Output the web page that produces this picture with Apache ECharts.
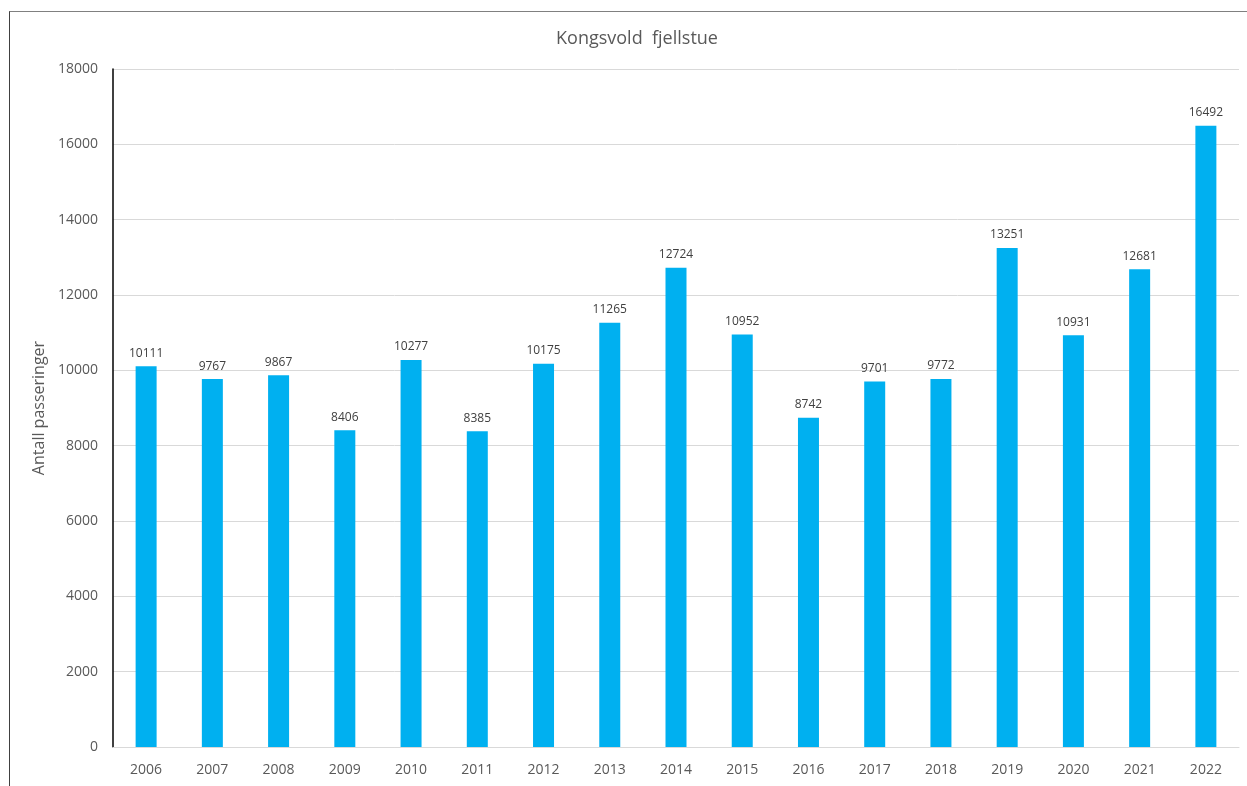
<!DOCTYPE html>
<html>
<head>
<meta charset="utf-8">
<script src="https://cdn.jsdelivr.net/npm/echarts@6/dist/echarts.min.js"></script>
<style>
html,body{margin:0;padding:0;background:#fff;}
#frame{position:absolute;left:9px;top:11px;width:1300px;height:900px;border-top:1px solid #808080;border-left:1px solid #404040;box-sizing:border-box;}
#chart{position:absolute;left:0;top:0;width:1247px;height:786px;}
</style>
</head>
<body>
<div id="frame"></div>
<div id="chart"></div>
<script>
const years = ['2006','2007','2008','2009','2010','2011','2012','2013','2014','2015','2016','2017','2018','2019','2020','2021','2022'];
const passages = [10111, 9767, 9867, 8406, 10277, 8385, 10175, 11265, 12724, 10952, 8742, 9701, 9772, 13251, 10931, 12681, 16492];
const titleText = 'Kongsvold  fjellstue';
const yAxisName = 'Antall passeringer';

const chart = echarts.init(document.getElementById('chart'), null, {renderer:'canvas'});
const font = '"Open Sans", Lato, sans-serif';
chart.setOption({
  backgroundColor: 'transparent',
  animation: false,
  title: {
    text: titleText, left: 632, textAlign: 'center', top: 25,
    textStyle: {fontFamily: font, fontSize: 18, fontWeight: 'normal', color: '#595959'}
  },
  grid: {left: 113, right: 8, top: 69, bottom: 39, containLabel: false},
  xAxis: {
    type: 'category', data: years,
    axisLine: {lineStyle: {color: '#d9d9d9', width: 1}},
    axisTick: {show: false},
    axisLabel: {fontFamily: font, fontSize: 14, color: '#595959', margin: 16}
  },
  yAxis: {
    type: 'value', min: 0, max: 18000, interval: 2000,
    name: yAxisName, nameLocation: 'middle', nameGap: 66, nameRotate: 90,
    nameTextStyle: {fontFamily: font, fontSize: 16, color: '#595959'},
    axisLine: {show: true, lineStyle: {color: '#000', width: 1.5}},
    axisTick: {show: false},
    axisLabel: {fontFamily: font, fontSize: 14, color: '#595959', margin: 15, formatter: v => String(v)},
    splitLine: {lineStyle: {color: '#d9d9d9', width: 1}}
  },
  series: [{
    type: 'bar', data: passages, barWidth: 21,
    itemStyle: {color: '#00b0f0'},
    label: {show: true, position: 'top', distance: 7, fontFamily: font, fontSize: 12, color: '#404040'}
  }]
});
</script>
</body>
</html>
